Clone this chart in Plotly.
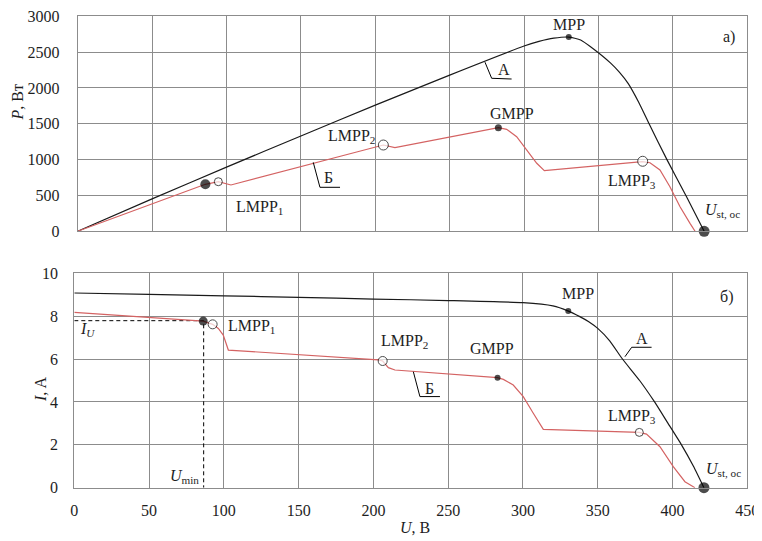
import plotly.graph_objects as go

# ---- data ----
# Curve A (no shading), power
uA_p = [0, 50, 100, 150, 200, 250, 300, 310, 320, 330, 338, 346, 358, 364, 370, 377, 384, 396, 409, 421]
pA = [0, 452, 895, 1330, 1760, 2180, 2585, 2650, 2695, 2710, 2670, 2555, 2350, 2220, 2060, 1800, 1500, 1000, 490, 0]
# Curve B (partial shading), power
uB_p = [0, 85.8, 94.5, 98, 103, 205.4, 209, 213.2, 282.7, 288.3, 295, 301.7, 308.5, 313.6,
        379.4, 384.6, 391.3, 398, 404.8, 411.5, 414.9]
pB = [0, 656, 692, 675, 646, 1204, 1185, 1167, 1446, 1423, 1320, 1134, 949, 846,
      971, 957, 855, 622, 343, 111, 0]
# Curve A, current
uA_i = [0, 50, 100, 150, 200, 250, 300, 320, 330, 338, 344, 350, 358, 366, 378, 388, 397, 406, 414, 421]
iA = [9.08, 9.02, 8.95, 8.88, 8.80, 8.73, 8.63, 8.48, 8.25, 7.98, 7.74, 7.43, 6.85, 6.05, 5.0, 4.0, 3.0, 2.0, 1.0, 0]
# Curve B, current
uB_i = [0, 86.2, 92.5, 96.3, 99.6, 101.9, 103, 203.3, 206.2, 210, 214.4, 283, 286.9, 293.5,
        300.2, 306.9, 313.6, 377.8, 382.6, 391.6, 400.5, 408.3, 415]
iB = [8.18, 7.77, 7.62, 7.43, 7.12, 6.66, 6.42, 5.96, 5.91, 5.6, 5.49, 5.13, 5.05, 4.79,
      4.25, 3.47, 2.72, 2.58, 2.50, 1.91, 0.98, 0.28, 0]

# special points (U, P) and (U, I)
filled_p = {"U": [85.8, 282.7, 330, 421], "P": [656, 1446, 2710, 0], "size": [10, 7, 6, 11]}
open_p = {"U": [94.5, 205.4, 379.7], "P": [692, 1204, 977], "size": [8, 10, 10]}
filled_i = {"U": [86.2, 283, 330.3, 421], "I": [7.77, 5.13, 8.24, 0], "size": [9, 6, 6, 11]}
open_i = {"U": [92.5, 206.2, 377.8], "I": [7.62, 5.91, 2.58], "size": [9, 9, 8]}

U_min = 86.5
I_U = 7.79

x_ticks = [0, 50, 100, 150, 200, 250, 300, 350, 400, 450]

RED = "#d46363"
BLK = "#1a1a1a"
GRID = "#8c8c8c"
FONT = "Liberation Serif, Times New Roman, DejaVu Serif, serif"
TXT = "#1e1e1e"

OFF = 8  # page body margin offset
W, H = 762 - OFF, 541 - OFF


def px(x):
    return (x - OFF) / W


def py(y):
    return 1 - (y - OFF) / H


fig = go.Figure()

# top panel
fig.add_trace(go.Scatter(x=uA_p, y=pA, mode="lines", line=dict(color=BLK, width=1.2, shape="spline", smoothing=0.5),
                         xaxis="x", yaxis="y", hoverinfo="skip"))
fig.add_trace(go.Scatter(x=uB_p, y=pB, mode="lines", line=dict(color=RED, width=1.2),
                         xaxis="x", yaxis="y", hoverinfo="skip"))
fig.add_trace(go.Scatter(x=filled_p["U"], y=filled_p["P"], mode="markers",
                         marker=dict(color="black", size=filled_p["size"], line=dict(width=0)),
                         xaxis="x", yaxis="y", cliponaxis=False))
fig.add_trace(go.Scatter(x=open_p["U"], y=open_p["P"], mode="markers",
                         marker=dict(color="white", size=open_p["size"], line=dict(color="black", width=1)),
                         xaxis="x", yaxis="y", cliponaxis=False))

# bottom panel
fig.add_trace(go.Scatter(x=[0, U_min, U_min], y=[I_U, I_U, 0], mode="lines",
                         line=dict(color="black", width=1, dash="4px,3px"),
                         xaxis="x2", yaxis="y2", hoverinfo="skip", cliponaxis=False))
fig.add_trace(go.Scatter(x=uA_i, y=iA, mode="lines", line=dict(color=BLK, width=1.2, shape="spline", smoothing=0.5),
                         xaxis="x2", yaxis="y2", hoverinfo="skip"))
fig.add_trace(go.Scatter(x=uB_i, y=iB, mode="lines", line=dict(color=RED, width=1.2),
                         xaxis="x2", yaxis="y2", hoverinfo="skip"))
fig.add_trace(go.Scatter(x=filled_i["U"], y=filled_i["I"], mode="markers",
                         marker=dict(color="black", size=filled_i["size"], line=dict(width=0)),
                         xaxis="x2", yaxis="y2", cliponaxis=False))
fig.add_trace(go.Scatter(x=open_i["U"], y=open_i["I"], mode="markers",
                         marker=dict(color="white", size=open_i["size"], line=dict(color="black", width=1)),
                         xaxis="x2", yaxis="y2", cliponaxis=False))

axis_common = dict(showgrid=True, gridcolor=GRID, gridwidth=1, zeroline=False,
                   showline=True, mirror=True, linecolor=GRID, linewidth=1, automargin=False,
                   ticks="outside", tickcolor="rgba(0,0,0,0)", ticklabeloverflow="allow",
                   tickfont=dict(family=FONT, size=16, color=TXT))

fig.update_layout(
    width=W, height=H,
    margin=dict(l=0, r=0, t=0, b=0, autoexpand=False),
    paper_bgcolor="white", plot_bgcolor="white",
    showlegend=False,
    font=dict(family=FONT, size=16, color=TXT),
    xaxis=dict(domain=[px(77.7), px(747.3)], range=[0, 450], tickvals=x_ticks, showticklabels=False,
               anchor="y", ticklen=0, **axis_common),
    yaxis=dict(domain=[py(231.3), py(16.3)], range=[0, 3000], dtick=500,
               anchor="x", ticklen=14, **axis_common),
    xaxis2=dict(domain=[px(74.3), px(747.3)], range=[0, 450], tickvals=x_ticks,
                anchor="y2", ticklen=8, **axis_common),
    yaxis2=dict(domain=[py(487.7), py(273.3)], range=[0, 10], dtick=2,
                anchor="x2", ticklen=12, **axis_common),
)


def ann(text, x, y, xr="x", yr="y", size=16, xanchor="center"):
    return dict(text=text, x=x, y=y, xref=xr, yref=yr, showarrow=False,
                font=dict(family=FONT, size=size, color=TXT), xanchor=xanchor, yanchor="middle")


def title(text, x, y, angle=0):
    return dict(text=text, x=px(x), y=py(y), xref="paper", yref="paper", showarrow=False,
                xanchor="center", yanchor="middle", textangle=angle,
                font=dict(family=FONT, size=16, color=TXT))


annots = [
    # top
    ann("MPP", 330, 2880),
    ann("а)", 438, 2707),
    ann("А", 286.5, 2260),
    ann("Б", 168.4, 745),
    ann("LMPP<sub>1</sub>", 105, 335, xanchor="left"),
    ann("LMPP<sub>2</sub>", 184, 1320),
    ann("GMPP", 292, 1650),
    ann("LMPP<sub>3</sub>", 372.5, 690),
    ann("<i>U</i><sub>st, oc</sub>", 433, 290),
    # bottom
    ann("MPP", 337, 9.07, "x2", "y2"),
    ann("б)", 436, 8.91, "x2", "y2"),
    ann("А", 379.4, 6.97, "x2", "y2"),
    ann("Б", 237.8, 4.64, "x2", "y2"),
    ann("LMPP<sub>1</sub>", 101.5, 7.51, "x2", "y2", xanchor="left"),
    ann("LMPP<sub>2</sub>", 221, 6.81, "x2", "y2"),
    ann("GMPP", 279.6, 6.5, "x2", "y2"),
    ann("LMPP<sub>3</sub>", 373.2, 3.31, "x2", "y2"),
    ann("<i>U</i><sub>st, oc</sub>", 434, 0.83, "x2", "y2"),
    ann("<i>I<sub>U</sub></i>", 9, 7.36, "x2", "y2"),
    ann("<i>U</i><sub>min</sub>", 74, 0.51, "x2", "y2"),
    # axis titles
    title("<i>P</i>, Вт", 16.5, 103, -90),
    title("<i>I</i>, A", 40, 390, -90),
    title("<i>U</i>, В", 415, 527),
]
fig.update_layout(annotations=annots)


def leader(pts, xr, yr):
    path = "M " + " L ".join(f"{x},{y}" for x, y in pts)
    return dict(type="path", path=path, xref=xr, yref=yr, line=dict(color="black", width=1))


fig.update_layout(shapes=[
    leader([(273.7, 2360), (278.2, 2135), (291.6, 2125)], "x", "y"),
    leader([(158.3, 962), (162.8, 614), (176.3, 614)], "x", "y"),
    leader([(368.2, 6.11), (372.7, 6.55), (386, 6.55)], "x2", "y2"),
    leader([(226.7, 5.41), (231.1, 4.25), (244.5, 4.25)], "x2", "y2"),
])

fig.write_html("out.html")
